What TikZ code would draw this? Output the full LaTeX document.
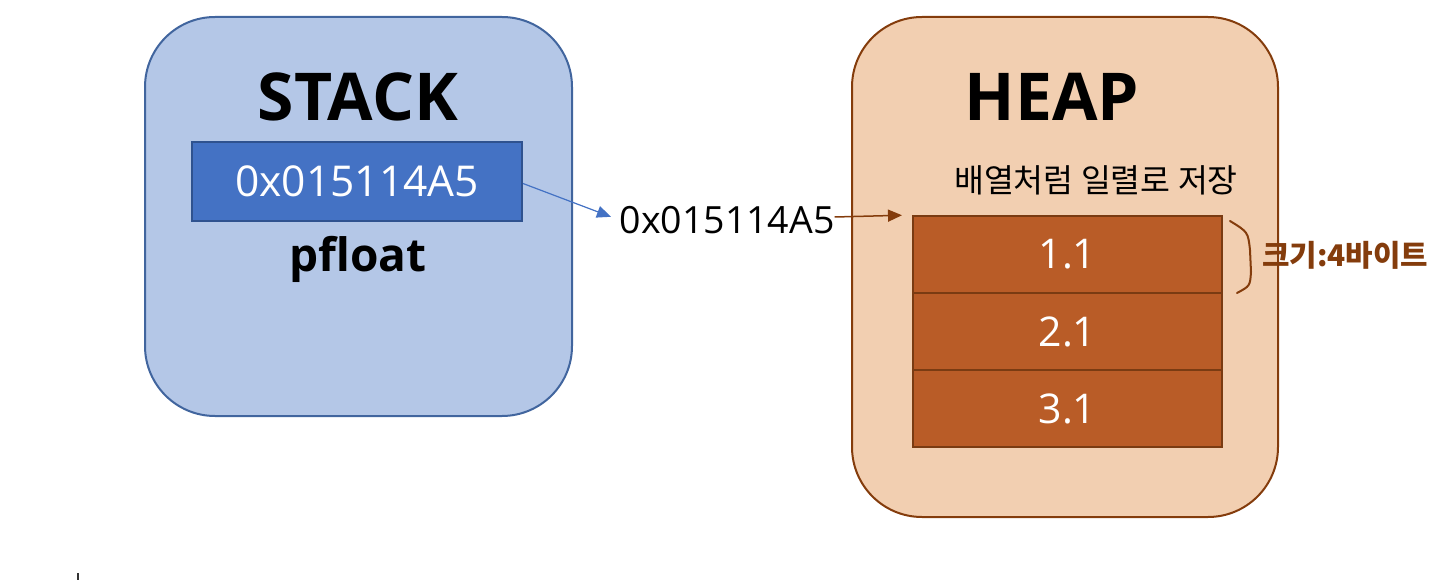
\documentclass[tikz,border=0pt]{standalone}
\usepackage{fontspec}
\usepackage{graphicx}
\setmainfont{Open Sans}
\newfontfamily\kr{Noto Sans CJK KR}
\usetikzlibrary{arrows.meta}
\definecolor{stackfill}{HTML}{B4C7E7}
\definecolor{stackline}{HTML}{41659E}
\definecolor{cellblue}{HTML}{4472C4}
\definecolor{cellblueline}{HTML}{2F528F}
\definecolor{heapfill}{HTML}{F2CFB1}
\definecolor{heapline}{HTML}{843C0C}
\definecolor{cellbrown}{HTML}{B95C27}
\definecolor{cellbrownline}{HTML}{7A3B12}
\tikzset{
  panel/.style={draw, line width=2pt, rounded corners=70pt, inner sep=0pt},
  cellbox/.style={draw=cellbrownline, fill=cellbrown, line width=2pt, minimum width=309pt, minimum height=77pt, inner sep=0pt, text=white, font=\fontsize{41}{43}\selectfont},
  title/.style={font=\bfseries\fontsize{66}{70}\selectfont, inner sep=0pt},
  tip/.style={-{Triangle[length=14pt,width=12pt]}}
}
\begin{document}
\begin{tikzpicture}[x=1pt,y=-1pt]
\useasboundingbox (0,0) rectangle (1436,580);
% stack
\node[panel, draw=stackline, fill=stackfill, minimum width=427pt, minimum height=399pt] (stack) at (358.5,216.5) {};
\node[title] (stacktitle) at (358,97) {STACK};
\node[draw=cellblueline, fill=cellblue, line width=2pt, minimum width=330pt, minimum height=79pt, inner sep=0pt, text=white, font=\fontsize{42.5}{44}\selectfont] (ptr) at (357,181.5) {0x015114A5};
\node[font=\bfseries\fontsize{46}{48}\selectfont, inner sep=0pt] (pfloat) at (358,259) {pfloat};
% heap
\node[panel, draw=heapline, fill=heapfill, minimum width=426pt, minimum height=500pt] (heap) at (1065,267) {};
\node[title] (heaptitle) at (1052,97) {HEAP};
\node[font=\kr\fontsize{32.5}{34}\selectfont, inner sep=0pt] (desc) at (1096,180) {배열처럼 일렬로 저장};
\node[cellbox] (c1) at (1067.5,254.5) {1.1};
\node[cellbox] (c2) at (1067.5,331.5) {2.1};
\node[cellbox] (c3) at (1067.5,408.5) {3.1};
% address
\node[font=\fontsize{37.5}{40}\selectfont, inner sep=0pt] (addr) at (727,220) {0x015114A5};
\draw[tip, draw=cellblue, fill=cellblue, line width=1.2pt, shorten >=9pt] (ptr.east) ++(0,2) coordinate (ptrout) -- (addr.west);
\draw[tip, draw=heapline, fill=heapline, line width=1.5pt, shorten >=10pt] (addr.east) ++(0,-3) coordinate (addrout) -- (c1.north west);
% brace
\coordinate (bt) at (1230,221);
\coordinate (bb) at (1237,293);
\draw[heapline, line width=2pt, line cap=round] (bt) .. controls (1248,232) .. (1250,250) -- (1251,272) .. controls (1250,286) .. (bb);
\node[text=heapline, inner sep=0pt, anchor=west] (size) at (1262,255) {\resizebox{166pt}{!}{\kr\bfseries\fontsize{30}{32}\selectfont 크기:4바이트}};
% tick
\coordinate (tk1) at (78,573);
\coordinate (tk2) at (78,580);
\draw[line width=2pt, black!80] (tk1) -- (tk2);
\end{tikzpicture}
\end{document}
